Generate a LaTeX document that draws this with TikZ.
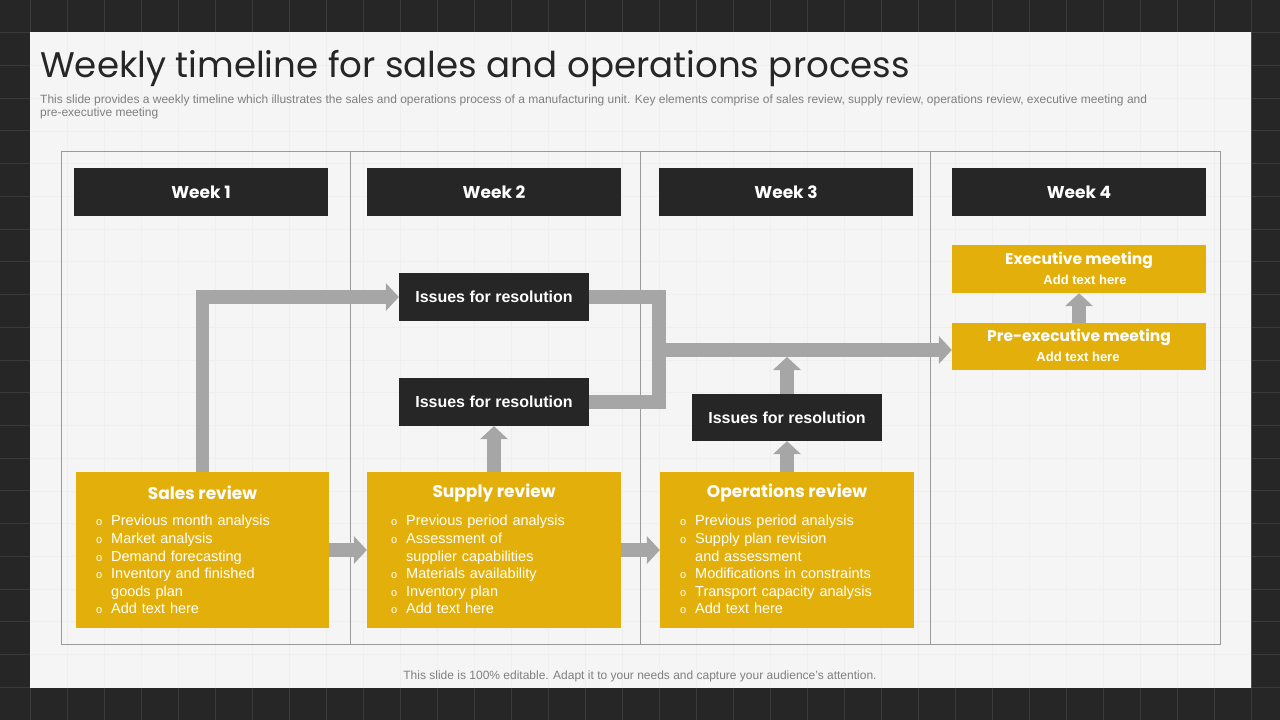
\documentclass[tikz,border=0pt]{standalone}
\usepackage{fontspec}
\setmainfont{Liberation Sans}
\newfontfamily\gfont{Poppins}
\usetikzlibrary{arrows.meta}
\definecolor{bgdark}{HTML}{262626}
\definecolor{gridc}{HTML}{3A3A3A}
\definecolor{panel}{HTML}{F5F5F5}
\definecolor{faint}{HTML}{EFEFEF}
\definecolor{dark}{HTML}{262626}
\definecolor{gold}{HTML}{E3B00B}
\definecolor{agray}{HTML}{A6A6A6}
\definecolor{tline}{HTML}{9A9A9A}
\definecolor{subgray}{HTML}{7F7F7F}
\newcommand\bitem[1]{\par\noindent\makebox[15pt][l]{\fontsize{11}{11}\selectfont o}#1}
\newcommand\bcont[1]{\par\noindent\hspace*{15pt}#1}
\begin{document}
\begin{tikzpicture}[x=1pt,y=-1pt,
  garrow/.style={draw=agray, line width=13.5pt, -{Triangle[length=13pt,width=28pt,line width=0pt]}},
  gline/.style={draw=agray, line width=13.5pt},
  weekbox/.style={fill=dark, inner sep=0pt, minimum width=254pt, minimum height=48pt, text=white, font=\gfont\bfseries\fontsize{17}{20}\selectfont},
  issbox/.style={fill=dark, inner sep=0pt, minimum width=190pt, minimum height=48pt, text=white, font=\bfseries\fontsize{16}{19}\selectfont},
  goldbox/.style={fill=gold, inner sep=0pt, minimum width=254pt, minimum height=156pt},
  smallgold/.style={fill=gold, inner sep=0pt, minimum width=254pt, minimum height=48pt},
  headtxt/.style={text=white, inner sep=0pt, font=\gfont\bfseries\fontsize{17}{20}\selectfont},
  mtgtxt/.style={text=white, inner sep=0pt, font=\gfont\bfseries\fontsize{15.5}{18}\selectfont},
  addtxt/.style={text=white, inner sep=0pt, font=\bfseries\fontsize{13}{15}\selectfont},
  listtxt/.style={text=white, inner sep=0pt, anchor=north west, text width=225pt, align=left, font=\fontsize{14.5}{17.6}\selectfont},
  tableline/.style={draw=tline, line width=1pt}
]
\useasboundingbox (0,0) rectangle (1280,720);
% background
\fill[bgdark] (0,0) rectangle (1280,720);
\foreach \x in {30,67,...,1280} \draw[gridc, line width=1pt] (\x,0) -- (\x,720);
\foreach \k in {1,...,21} \draw[gridc, line width=1pt] (0,{\k*32.727}) -- (1280,{\k*32.727});
\fill[panel] (30,32) rectangle (1251,688);
\begin{scope}
\clip (30,32) rectangle (1251,688);
\foreach \x in {67,104,...,1251} \draw[faint, line width=0.8pt] (\x,32) -- (\x,688);
\foreach \k in {2,...,20} \draw[faint, line width=0.8pt] (30,{\k*32.727}) -- (1251,{\k*32.727});
\end{scope}

% title and texts
\node[anchor=base west, inner sep=0pt, text=dark, font=\gfont\fontsize{35.6}{42}\selectfont] (title) at (40,77) {Weekly timeline for sales and operations process};
\node[anchor=north west, inner sep=0pt, text=subgray, align=left, font=\fontsize{12}{13}\selectfont] (sub) at (40,95) {This slide provides a weekly timeline which illustrates the sales and operations process of a manufacturing unit. Key elements comprise of sales review, supply review, operations review, executive meeting and\\pre-executive meeting};
\node[anchor=base, inner sep=0pt, text=subgray, font=\fontsize{12}{13}\selectfont] (foot) at (640,679) {This slide is 100\% editable. Adapt it to your needs and capture your audience's attention.};

% table
\draw[tableline] (61,151) rectangle (1220,644);
\draw[tableline] (350.5,151) -- (350.5,644);
\draw[tableline] (640,151) -- (640,644);
\draw[tableline] (930,151) -- (930,644);

% week headers
\node[weekbox] (w1) at (201,192) {Week 1};
\node[weekbox] (w2) at (494,192) {Week 2};
\node[weekbox] (w3) at (786,192) {Week 3};
\node[weekbox] (w4) at (1079,192) {Week 4};

% issue boxes
\node[issbox] (iss1) at (494,297) {Issues for resolution};
\node[issbox] (iss2) at (494,402) {Issues for resolution};
\node[issbox, minimum height=47pt] (iss3) at (787,417.5) {Issues for resolution};

% gold boxes
\node[goldbox, minimum width=253pt] (sales) at (202.5,550) {};
\node[goldbox] (supply) at (494,550) {};
\node[goldbox] (ops) at (787,550) {};
\node[smallgold] (exec) at (1079,269) {};
\node[smallgold, minimum height=47pt] (pre) at (1079,346.5) {};

% box texts
\node[headtxt] (salesh) at (202.5,493) {Sales review};
\node[headtxt] (supplyh) at (494,493) {Supply review};
\node[headtxt] (opsh) at (787,493) {Operations review};
\node[listtxt] (salesl) at (96,508) {\bitem{Previous month analysis}\bitem{Market analysis}\bitem{Demand forecasting}\bitem{Inventory and finished}\bcont{goods plan}\bitem{Add text here}};
\node[listtxt] (supplyl) at (391,508) {\bitem{Previous period analysis}\bitem{Assessment of}\bcont{supplier capabilities}\bitem{Materials availability}\bitem{Inventory plan}\bitem{Add text here}};
\node[listtxt] (opsl) at (680,508) {\bitem{Previous period analysis}\bitem{Supply plan revision}\bcont{and assessment}\bitem{Modifications in constraints}\bitem{Transport capacity analysis}\bitem{Add text here}};
\node[mtgtxt] (exech) at (1079,260) {Executive meeting};
\node[addtxt] (execs) at (1085,280) {Add text here};
\node[mtgtxt] (preh) at (1079,337) {Pre-executive meeting};
\node[addtxt] (pres) at (1078,357) {Add text here};

% connectors
\coordinate (brk) at (659,350);
\coordinate (mainbot) at (787,357);
\draw[garrow] (sales.north) |- (iss1.west);
\draw[gline] (iss1.east) -| (brk) |- (iss2.east);
\draw[garrow] (brk) -- (brk -| pre.west);
\draw[garrow] (iss3.north) -- (mainbot);
\draw[garrow] (ops.north) -- (iss3.south);
\draw[garrow] (supply.north) -- (iss2.south);
\draw[garrow] (sales.east) -- (supply.west);
\draw[garrow] (supply.east) -- (ops.west);
\draw[garrow] (pre.north) -- (exec.south);
\end{tikzpicture}
\end{document}
